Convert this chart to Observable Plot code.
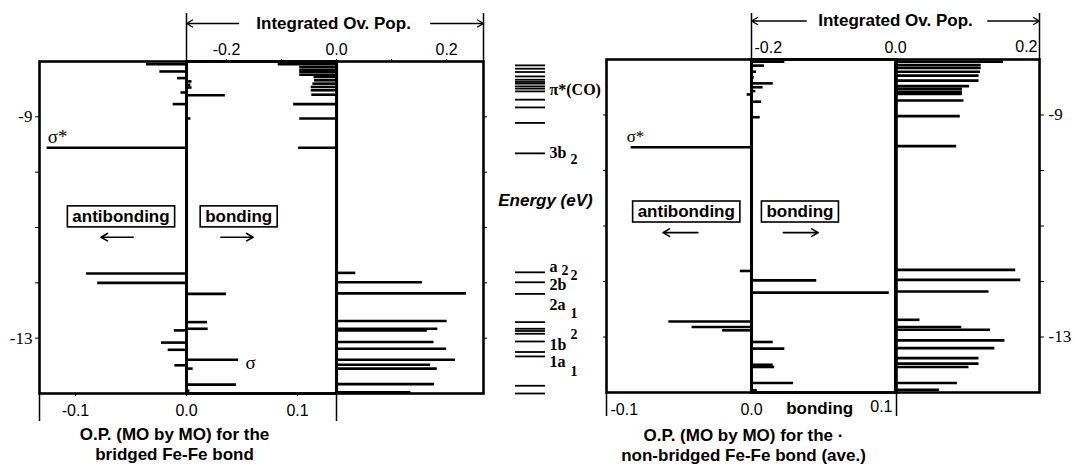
<!DOCTYPE html>
<html><head><meta charset="utf-8">
<script src="https://cdn.jsdelivr.net/npm/d3@7"></script>
<script src="https://cdn.jsdelivr.net/npm/@observablehq/plot@0.6"></script>
<style>
html,body{margin:0;padding:0;background:#fff;overflow:hidden}
#chart{position:relative;width:1075px;height:466px;background:#fff}
#chart svg{position:absolute;left:0;top:0}
</style></head><body><div id="chart"></div>
<script>
// ---------- data ----------
const energyDomain = [-14, -8];
const energyTicks = [-13, -12, -11, -10, -9];
const energyTickLabels = [-13, -9];

// bridged Fe-Fe bond: O.P. (MO by MO)
const leftMOEnergy = [-8.05, -8.18, -8.30, -8.36, -8.42, -8.47, -8.56, -8.61, -8.77, -9.03, -9.56, -11.83, -12.00, -12.20, -12.71, -12.83, -12.86, -13.08, -13.21, -13.39, -13.49, -13.55, -13.84, -13.95];
const leftMOValue  = [-0.036, -0.024, -0.008, 0.005, 0.004, 0.005, -0.005, 0.035, -0.012, 0.004, -0.1255, -0.090, -0.080, 0.036, 0.019, 0.0195, -0.011, -0.0225, -0.0165, 0.047, -0.0105, 0.006, 0.045, 0.003];
// bridged Fe-Fe bond: integrated overlap population
const leftIntEnergy = [-8.05, -8.10, -8.15, -8.19, -8.24, -8.28, -8.34, -8.40, -8.46, -8.52, -8.60, -8.77, -9.03, -9.56, -11.82, -11.99, -12.19, -12.69, -12.83, -12.86, -13.07, -13.19, -13.39, -13.48, -13.55, -13.83, -13.98];
const leftIntValue  = [-0.106, -0.067, -0.067, -0.067, -0.067, -0.041, -0.040, -0.043, -0.046, -0.046, -0.045, -0.078, -0.067, -0.069, 0.035, 0.156, 0.236, 0.201, 0.184, 0.165, 0.177, 0.200, 0.216, 0.171, 0.183, 0.178, 0.135];

// non-bridged Fe-Fe bond (ave.): O.P. (MO by MO)
const rightMOEnergy = [-8.04, -8.11, -8.22, -8.32, -8.43, -8.50, -8.57, -8.63, -8.76, -9.04, -9.58, -11.81, -11.98, -12.20, -12.72, -12.82, -12.88, -13.09, -13.21, -13.50, -13.54, -13.83, -13.96];
const rightMOValue  = [0.023, 0.009, 0.0035, 0.002, 0.015, 0.008, 0.003, -0.003, 0.007, 0.006, -0.083, -0.0077, 0.045, 0.095, -0.057, -0.041, -0.020, 0.015, 0.023, 0.015, 0.016, 0.029, 0.004];
// non-bridged: integrated overlap population
const rightIntEnergy = [-8.04, -8.10, -8.15, -8.22, -8.29, -8.38, -8.48, -8.53, -8.58, -8.62, -8.74, -9.02, -9.56, -11.79, -11.97, -12.18, -12.69, -12.82, -12.87, -13.06, -13.20, -13.38, -13.48, -13.54, -13.83, -13.95];
const rightIntValue  = [0.150, 0.119, 0.119, 0.118, 0.116, 0.116, 0.103, 0.093, 0.093, 0.093, 0.095, 0.090, 0.085, 0.167, 0.174, 0.130, 0.034, 0.092, 0.132, 0.152, 0.138, 0.116, 0.116, 0.102, 0.086, 0.061];

// MO energy level diagram
const levelEnergy = [-8.07, -8.13, -8.19, -8.27, -8.33, -8.37, -8.40, -8.45, -8.49, -8.54, -8.69, -8.83, -9.11, -9.66, -11.81, -11.99, -12.20, -12.71, -12.83, -12.87, -12.92, -13.06, -13.25, -13.33, -13.86, -14.00];
const levelNames   = ["π*(CO)", "3b", "a", "2b", "2a", "1b", "1a"];
const levelNameE   = [-8.51, -9.66, -11.71, -12.04, -12.39, -13.12, -13.42];
const levelIndex   = ["", "2", "2", "2", "1", "2", "1"];
const levelIndexE  = [-8.51, -9.77, -11.77, -11.87, -12.56, -12.93, -13.60];

// axis tick values
const opTicksBridged = [-0.1, 0, 0.1];
const intTicks = [-0.2, -0.1, 0, 0.1, 0.2];
const intTickLabels = [-0.2, 0, 0.2];

// ---------- tables ----------
const zip = (E, v) => E.map((e, i) => ({E: e, v: v[i]}));
const leftMO = zip(leftMOEnergy, leftMOValue);
const leftInt = zip(leftIntEnergy, leftIntValue);
const rightMO = zip(rightMOEnergy, rightMOValue);
const rightInt = zip(rightIntEnergy, rightIntValue);
const levelLabels = levelNames.map((n, i) => ({main: n, E: levelNameE[i], idx: levelIndex[i], iE: levelIndexE[i]}));

const SANS = "'Liberation Sans', Arial, sans-serif";
const SERIF = "'Liberation Serif', 'Times New Roman', serif";
const W = 1075, H = 466;
const BOX = "#010101";
const fmt1 = d => d.toFixed(1);

const common = {
  width: W, height: H,
  y: {domain: energyDomain},
  style: {background: "transparent", fontFamily: SANS, fontSize: "16px", color: "#000", overflow: "visible"}
};
const barStyle = {stroke: "#000", strokeWidth: 2.6};
const mid = {lineAnchor: "middle"};

// ---------- left panel: O.P. (MO by MO), bridged ----------
const lmoDom = [-0.1324, 0.1351];
const plotLMO = Plot.plot({
  ...common, marginLeft: 39, marginRight: 739, marginTop: 61, marginBottom: 73,
  x: {domain: lmoDom},
  marks: [
    Plot.ruleY(leftMO, {y: "E", x1: 0, x2: "v", ...barStyle}),
    Plot.ruleX([0], {strokeWidth: 3}),
    Plot.frame({strokeWidth: 2.6}),
    Plot.axisY({anchor: "left", ticks: energyTicks, tickSize: 4, tickPadding: 3, label: null,
      tickFormat: d => energyTickLabels.includes(d) ? String(d) : "", fontFamily: SERIF, fontSize: 17}),
    Plot.axisX({anchor: "bottom", ticks: opTicksBridged, tickSize: 3, tickPadding: 8, label: null, tickFormat: fmt1, fontSize: 16}),
    Plot.axisX({anchor: "bottom", ticks: lmoDom, tickSize: 28, label: null, tickFormat: () => "", strokeWidth: 1.5}),
    Plot.text(["σ*"], {x: -0.116, y: -9.36, fontFamily: SERIF, fontSize: 19}),
    Plot.text(["σ"], {x: 0.0577, y: -13.44, fontFamily: SERIF, fontSize: 19}),
    Plot.text(["antibonding", "bonding"], {x: [-0.059, 0.047], y: [-10.80, -10.80], fontWeight: "bold", fontSize: 17, fill: BOX}),
    Plot.arrow([{a: -0.048, b: -0.077}, {a: 0.031, b: 0.060}], {x1: "a", x2: "b", y1: -11.175, y2: -11.175, headLength: 7, strokeWidth: 1.6}),
    Plot.text(["O.P. (MO by MO) for the\nbridged Fe-Fe bond"], {x: 0, dx: -12, frameAnchor: "bottom", dy: 50, ...mid, fontWeight: "bold", fontSize: 17, lineHeight: 1.18})
  ]
});

// ---------- left panel: integrated overlap population ----------
const lintDom = [-0.2727, 0.267];
const plotLInt = Plot.plot({
  ...common, marginLeft: 186, marginRight: 592, marginTop: 61, marginBottom: 73,
  x: {domain: lintDom},
  y: {domain: energyDomain, axis: null},
  marks: [
    Plot.ruleY(leftInt, {y: "E", x1: 0, x2: "v", ...barStyle}),
    Plot.ruleX([0], {strokeWidth: 3}),
    Plot.frame({strokeWidth: 2.6}),
    Plot.axisY({anchor: "right", ticks: energyTicks, tickSize: 3, label: null, tickFormat: () => ""}),
    Plot.axisX({anchor: "top", ticks: intTicks, tickSize: 3, tickPadding: 4, label: null,
      tickFormat: d => intTickLabels.some(t => Math.abs(t - d) < 1e-9) ? fmt1(d) : "", fontSize: 16}),
    Plot.axisX({anchor: "top", ticks: lintDom, tickSize: 49, label: null, tickFormat: () => "", strokeWidth: 1.5}),
    Plot.text(["Integrated Ov. Pop."], {x: 0, dx: -3, frameAnchor: "top", dy: -38, ...mid, fontWeight: "bold", fontSize: 17}),
    Plot.arrow([{a: -0.178, b: lintDom[0]}, {a: 0.171, b: lintDom[1]}], {x1: "a", x2: "b", y1: energyDomain[1], y2: energyDomain[1], dy: -38, headLength: 8, strokeWidth: 1.3})
  ]
});

// ---------- energy level diagram ----------
const plotLevels = Plot.plot({
  ...common, marginLeft: 515, marginRight: 530, marginTop: 61, marginBottom: 73,
  x: {domain: [0, 1], axis: null},
  y: {domain: energyDomain, axis: null},
  marks: [
    Plot.ruleY(levelEnergy, {x1: 0, x2: 1, stroke: "#000", strokeWidth: 1.8}),
    Plot.text(levelLabels, {x: 1, y: "E", text: "main", textAnchor: "start", dx: 4, fontFamily: SERIF, fontWeight: "bold", fontSize: 16}),
    Plot.text(levelLabels.filter(d => d.idx && d.main.length === 2), {x: 1, y: "iE", text: "idx", textAnchor: "start", dx: 25, fontFamily: SERIF, fontWeight: "bold", fontSize: 14}),
    Plot.text(levelLabels.filter(d => d.idx && d.main.length === 1), {x: 1, y: "iE", text: "idx", textAnchor: "start", dx: 16, fontFamily: SERIF, fontWeight: "bold", fontSize: 14}),
    Plot.text(["Energy (eV)"], {x: 1, y: -10.51, fontWeight: "bold", fontStyle: "italic", fontSize: 17})
  ]
});

// ---------- right panel: O.P. (MO by MO), non-bridged ----------
const rmoDom = [-0.1, 0.1];
const plotRMO = Plot.plot({
  ...common, marginLeft: 606, marginRight: 179, marginTop: 59, marginBottom: 74,
  x: {domain: rmoDom},
  marks: [
    Plot.ruleY(rightMO, {y: "E", x1: 0, x2: "v", ...barStyle}),
    Plot.ruleX([0], {strokeWidth: 3}),
    Plot.frame({strokeWidth: 2.6}),
    Plot.axisY({anchor: "left", ticks: energyTicks, tickSize: 3, label: null, tickFormat: () => ""}),
    Plot.axisX({anchor: "bottom", ticks: rmoDom, tickSize: 24, label: null, tickFormat: () => "", strokeWidth: 1.5}),
    Plot.text([rmoDom[0]], {x: d => d, text: fmt1, textAnchor: "start", dx: 4, frameAnchor: "bottom", dy: 17, ...mid, fontSize: 16}),
    Plot.text([0], {x: d => d, text: fmt1, frameAnchor: "bottom", dy: 17, ...mid, fontSize: 16}),
    Plot.text([rmoDom[1]], {x: d => d, text: fmt1, textAnchor: "end", dx: -4, frameAnchor: "bottom", dy: 14, ...mid, fontSize: 16}),
    Plot.text(["bonding"], {x: 0.047, frameAnchor: "bottom", dy: 16, ...mid, fontWeight: "bold", fontSize: 17}),
    Plot.text(["σ*"], {x: -0.08, y: -9.39, fontFamily: SERIF, fontSize: 17}),
    Plot.text(["antibonding", "bonding"], {x: [-0.045, 0.0334], y: [-10.74, -10.74], fontWeight: "bold", fontSize: 17, fill: BOX}),
    Plot.arrow([{a: -0.037, b: -0.061}, {a: 0.022, b: 0.046}], {x1: "a", x2: "b", y1: -11.12, y2: -11.12, headLength: 7, strokeWidth: 1.6}),
    Plot.text(["O.P. (MO by MO) for the ·\nnon-bridged Fe-Fe bond (ave.)"], {x: 0, dx: -8, frameAnchor: "bottom", dy: 52.5, ...mid, fontWeight: "bold", fontSize: 17, lineHeight: 1.18})
  ]
});

// ---------- right panel: integrated overlap population ----------
const rintDom = [-0.2, 0.2];
const plotRInt = Plot.plot({
  ...common, marginLeft: 751, marginRight: 36, marginTop: 59, marginBottom: 74,
  x: {domain: rintDom},
  marks: [
    Plot.ruleY(rightInt, {y: "E", x1: 0, x2: "v", ...barStyle}),
    Plot.ruleX([0], {strokeWidth: 3}),
    Plot.frame({strokeWidth: 2.6}),
    Plot.axisY({anchor: "right", ticks: energyTicks, tickSize: 4, tickPadding: 5, label: null,
      tickFormat: d => energyTickLabels.includes(d) ? String(d) : "", fontFamily: SERIF, fontSize: 17}),
    Plot.axisX({anchor: "top", ticks: rintDom, tickSize: 47, label: null, tickFormat: () => "", strokeWidth: 1.5}),
    Plot.text([rintDom[0]], {x: d => d, text: fmt1, textAnchor: "start", dx: 3, frameAnchor: "top", dy: -12, ...mid, fontSize: 16}),
    Plot.text([0], {x: d => d, text: fmt1, frameAnchor: "top", dy: -12, ...mid, fontSize: 16}),
    Plot.text([rintDom[1]], {x: d => d, text: fmt1, textAnchor: "end", dx: -2, frameAnchor: "top", dy: -13, ...mid, fontSize: 16}),
    Plot.text(["Integrated Ov. Pop."], {x: 0, frameAnchor: "top", dy: -38.5, ...mid, fontWeight: "bold", fontSize: 17}),
    Plot.arrow([{a: -0.124, b: rintDom[0]}, {a: 0.128, b: rintDom[1]}], {x1: "a", x2: "b", y1: energyDomain[1], y2: energyDomain[1], dy: -38.5, headLength: 8, strokeWidth: 1.3})
  ]
});

const chart = document.getElementById("chart");
[plotLMO, plotLInt, plotLevels, plotRMO, plotRInt].forEach(p => chart.appendChild(p));

// draw boxes around the "antibonding" / "bonding" annotations
const NS = "http://www.w3.org/2000/svg";
chart.querySelectorAll(`g[fill="${BOX}"] text`).forEach(t => {
  const b = t.getBBox();
  const r = document.createElementNS(NS, "rect");
  r.setAttribute("x", b.x - 5);
  r.setAttribute("y", b.y - 1);
  r.setAttribute("width", b.width + 10);
  r.setAttribute("height", b.height + 2);
  r.setAttribute("fill", "none");
  r.setAttribute("stroke", "#000");
  r.setAttribute("stroke-width", 1.6);
  if (t.getAttribute("transform")) r.setAttribute("transform", t.getAttribute("transform"));
  t.parentNode.insertBefore(r, t);
});
</script></body></html>
